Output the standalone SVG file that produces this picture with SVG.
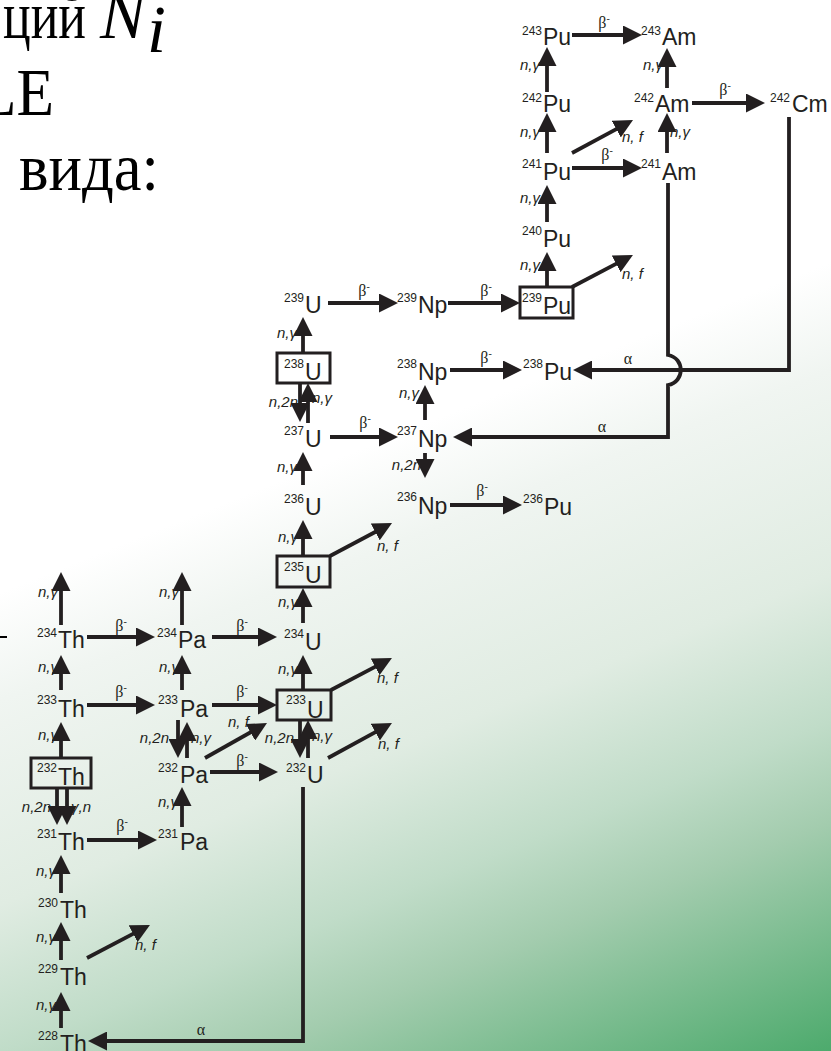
<svg xmlns="http://www.w3.org/2000/svg" width="831" height="1051" viewBox="0 0 831 1051">
<defs>
<linearGradient id="bg" gradientUnits="userSpaceOnUse" x1="203.5" y1="511.5" x2="475.5" y2="1195">
<stop offset="0" stop-color="#ffffff"/>
<stop offset="0.136" stop-color="#f0f5f1"/>
<stop offset="0.395" stop-color="#e0ece2"/>
<stop offset="0.58" stop-color="#c0dcc8"/>
<stop offset="0.707" stop-color="#a3ccae"/>
<stop offset="1" stop-color="#4caa6c"/>
</linearGradient>
<marker id="ah" markerUnits="userSpaceOnUse" markerWidth="19" markerHeight="19" viewBox="0 0 19 19" refX="9" refY="9.5" orient="auto"><path d="M0,0 L19,9.5 L0,19 Z" fill="#231f20"/></marker>
<style>
.c line,.c path{stroke:#231f20;stroke-width:3.8;fill:none;marker-end:url(#ah)}
.bx{stroke:#231f20;stroke-width:3;fill:none}
.e{font-family:"Liberation Sans",Arial,sans-serif;font-size:23px;fill:#231f20}
.s{font-family:"Liberation Sans",Arial,sans-serif;font-size:12px;fill:#231f20;text-anchor:end}
.l{font-family:"Liberation Sans",Arial,sans-serif;font-style:italic;font-size:15px;fill:#231f20}
.r{text-anchor:end}
.b{font-family:"Liberation Serif","Times New Roman",serif;font-size:16px;fill:#231f20;text-anchor:middle}
.m{font-size:10px}
.t{font-family:"Liberation Serif","Times New Roman",serif;font-size:68px;fill:#000}
</style>
</defs>
<rect width="831" height="1051" fill="url(#bg)"/>

<g id="slide-text">
<text class="t" x="3" y="38" font-size="64" textLength="83" lengthAdjust="spacingAndGlyphs">ций</text>
<text class="t" x="100" y="38" font-style="italic" font-size="64">N</text>
<text class="t" x="147" y="52" font-style="italic" font-size="40">i</text>
<text class="t" x="-21" y="115" textLength="75" lengthAdjust="spacingAndGlyphs">LE</text>
<text class="t" x="19" y="190" textLength="140" lengthAdjust="spacingAndGlyphs">вида:</text>
<rect x="0" y="636" width="7" height="2" fill="#000"/>
</g>

<g id="connectors" class="c">
<line x1="547" y1="92" x2="547" y2="57"/>
<line x1="547" y1="153" x2="547" y2="123"/>
<line x1="547" y1="222" x2="547" y2="195"/>
<line x1="547" y1="287" x2="547" y2="262"/>
<line x1="667" y1="153" x2="667" y2="123"/>
<line x1="667" y1="88" x2="667" y2="58"/>
<line x1="303" y1="353" x2="303" y2="327"/>
<line x1="308" y1="423" x2="308" y2="393"/>
<line x1="300" y1="383" x2="300" y2="412"/>
<line x1="425" y1="420" x2="425" y2="395"/>
<line x1="425" y1="453" x2="425" y2="468"/>
<line x1="303" y1="485" x2="303" y2="462"/>
<line x1="303" y1="556" x2="303" y2="530"/>
<line x1="303" y1="623" x2="303" y2="598"/>
<line x1="303" y1="690" x2="303" y2="665"/>
<line x1="300" y1="720" x2="300" y2="748"/>
<line x1="308" y1="758" x2="308" y2="730"/>
<line x1="61" y1="625" x2="61" y2="582"/>
<line x1="182" y1="625" x2="182" y2="582"/>
<line x1="61" y1="690" x2="61" y2="665"/>
<line x1="182" y1="690" x2="182" y2="665"/>
<line x1="61" y1="758" x2="61" y2="732"/>
<line x1="57" y1="788" x2="57" y2="815"/>
<line x1="67" y1="788" x2="67" y2="815"/>
<line x1="178" y1="720" x2="178" y2="748"/>
<line x1="187" y1="758" x2="187" y2="732"/>
<line x1="182" y1="827" x2="182" y2="797"/>
<line x1="61" y1="893" x2="61" y2="865"/>
<line x1="61" y1="960" x2="61" y2="932"/>
<line x1="61" y1="1028" x2="61" y2="1002"/>
<line x1="572" y1="35" x2="632" y2="35"/>
<line x1="572" y1="168" x2="632" y2="168"/>
<line x1="692" y1="103" x2="755" y2="103"/>
<line x1="328" y1="303" x2="388" y2="303"/>
<line x1="448" y1="303" x2="510" y2="303"/>
<line x1="450" y1="370" x2="512" y2="370"/>
<line x1="330" y1="437" x2="388" y2="437"/>
<line x1="450" y1="505" x2="512" y2="505"/>
<line x1="87" y1="637" x2="145" y2="637"/>
<line x1="212" y1="637" x2="267" y2="637"/>
<line x1="87" y1="705" x2="145" y2="705"/>
<line x1="212" y1="705" x2="267" y2="705"/>
<line x1="210" y1="772" x2="268" y2="772"/>
<line x1="87" y1="840" x2="147" y2="840"/>
<line x1="572" y1="153" x2="624.2" y2="124.8"/>
<line x1="572" y1="287" x2="624.1" y2="259.6"/>
<line x1="330" y1="556" x2="383.2" y2="527.7"/>
<line x1="331" y1="690" x2="383.1" y2="662.6"/>
<line x1="328" y1="758" x2="383.2" y2="727.8"/>
<line x1="205" y1="758" x2="258.3" y2="727.9"/>
<line x1="87" y1="958" x2="141.1" y2="929.6"/>
<path d="M668,183 V355 C685,358 685,382 668,385 V437 H463"/>
<path d="M789,117 V370 H583"/>
<path d="M303,787 V1041 H98"/>
</g>

<g id="connector-labels">
<text class="l r" x="540" y="70">n,γ</text>
<text class="l r" x="540" y="137">n,γ</text>
<text class="l r" x="540" y="203">n,γ</text>
<text class="l r" x="540" y="270">n,γ</text>
<text class="l" x="670" y="137">n,γ</text>
<text class="l r" x="663" y="70">n,γ</text>
<text class="l r" x="297" y="338">n,γ</text>
<text class="l" x="312" y="403">n,γ</text>
<text class="l r" x="298" y="407">n,2n</text>
<text class="l r" x="419" y="398">n,γ</text>
<text class="l r" x="421" y="470">n,2n</text>
<text class="l r" x="297" y="472">n,γ</text>
<text class="l r" x="298" y="542">n,γ</text>
<text class="l r" x="298" y="607">n,γ</text>
<text class="l r" x="298" y="674">n,γ</text>
<text class="l r" x="294" y="743">n,2n</text>
<text class="l" x="312" y="741">n,γ</text>
<text class="l r" x="58" y="597">n,γ</text>
<text class="l r" x="179" y="597">n,γ</text>
<text class="l r" x="58" y="672">n,γ</text>
<text class="l r" x="179" y="672">n,γ</text>
<text class="l r" x="58" y="740">n,γ</text>
<text class="l r" x="51" y="812">n,2n</text>
<text class="l" x="71" y="812">γ,n</text>
<text class="l r" x="169" y="743">n,2n</text>
<text class="l" x="191" y="743">n,γ</text>
<text class="l r" x="178" y="807">n,γ</text>
<text class="l r" x="56" y="876">n,γ</text>
<text class="l r" x="56" y="942">n,γ</text>
<text class="l r" x="56" y="1010">n,γ</text>
<text class="l" x="622" y="142">n, f</text>
<text class="l" x="622" y="279">n, f</text>
<text class="l" x="377" y="551">n, f</text>
<text class="l" x="377" y="683">n, f</text>
<text class="l" x="378" y="749">n, f</text>
<text class="l" x="228" y="727">n, f</text>
<text class="l" x="135" y="950">n, f</text>
<text class="b" x="604" y="28">β<tspan class="m" dy="-6">-</tspan></text>
<text class="b" x="607" y="160">β<tspan class="m" dy="-6">-</tspan></text>
<text class="b" x="725" y="95">β<tspan class="m" dy="-6">-</tspan></text>
<text class="b" x="364" y="296">β<tspan class="m" dy="-6">-</tspan></text>
<text class="b" x="486" y="296">β<tspan class="m" dy="-6">-</tspan></text>
<text class="b" x="486" y="363">β<tspan class="m" dy="-6">-</tspan></text>
<text class="b" x="365" y="428">β<tspan class="m" dy="-6">-</tspan></text>
<text class="b" x="482" y="496">β<tspan class="m" dy="-6">-</tspan></text>
<text class="b" x="121" y="631">β<tspan class="m" dy="-6">-</tspan></text>
<text class="b" x="242" y="631">β<tspan class="m" dy="-6">-</tspan></text>
<text class="b" x="121" y="697">β<tspan class="m" dy="-6">-</tspan></text>
<text class="b" x="242" y="697">β<tspan class="m" dy="-6">-</tspan></text>
<text class="b" x="242" y="766">β<tspan class="m" dy="-6">-</tspan></text>
<text class="b" x="122" y="831">β<tspan class="m" dy="-6">-</tspan></text>
<text class="b" x="602" y="432">α</text>
<text class="b" x="628" y="364">α</text>
<text class="b" x="201" y="1035">α</text>
</g>

<g id="n-Pu243"><text class="s" x="542" y="35">243</text><text class="e" x="543" y="45">Pu</text></g>
<g id="n-Am243"><text class="s" x="661" y="35">243</text><text class="e" x="662" y="45">Am</text></g>
<g id="n-Pu242"><text class="s" x="542" y="102">242</text><text class="e" x="543" y="112">Pu</text></g>
<g id="n-Am242"><text class="s" x="654" y="102">242</text><text class="e" x="655" y="112">Am</text></g>
<g id="n-Cm242"><text class="s" x="790" y="102">242</text><text class="e" x="792" y="112">Cm</text></g>
<g id="n-Pu241"><text class="s" x="542" y="168">241</text><text class="e" x="543" y="180">Pu</text></g>
<g id="n-Am241"><text class="s" x="661" y="168">241</text><text class="e" x="662" y="180">Am</text></g>
<g id="n-Pu240"><text class="s" x="542" y="235">240</text><text class="e" x="543" y="247">Pu</text></g>
<g id="n-Pu239"><rect class="bx" x="520" y="287" width="53" height="31"/><text class="s" x="542" y="302">239</text><text class="e" x="543" y="314">Pu</text></g>
<g id="n-U239"><text class="s" x="304" y="302">239</text><text class="e" x="305" y="313">U</text></g>
<g id="n-Np239"><text class="s" x="417" y="302">239</text><text class="e" x="418" y="313">Np</text></g>
<g id="n-U238"><rect class="bx" x="277" y="353" width="53" height="30"/><text class="s" x="304" y="368">238</text><text class="e" x="305" y="380">U</text></g>
<g id="n-Np238"><text class="s" x="417" y="368">238</text><text class="e" x="418" y="380">Np</text></g>
<g id="n-Pu238"><text class="s" x="543" y="368">238</text><text class="e" x="544" y="380">Pu</text></g>
<g id="n-U237"><text class="s" x="304" y="435">237</text><text class="e" x="305" y="447">U</text></g>
<g id="n-Np237"><text class="s" x="417" y="435">237</text><text class="e" x="418" y="447">Np</text></g>
<g id="n-U236"><text class="s" x="304" y="503">236</text><text class="e" x="305" y="515">U</text></g>
<g id="n-Np236"><text class="s" x="417" y="501">236</text><text class="e" x="418" y="514">Np</text></g>
<g id="n-Pu236"><text class="s" x="543" y="503">236</text><text class="e" x="544" y="515">Pu</text></g>
<g id="n-U235"><rect class="bx" x="277" y="556" width="53" height="31"/><text class="s" x="304" y="571">235</text><text class="e" x="305" y="583">U</text></g>
<g id="n-U234"><text class="s" x="304" y="638">234</text><text class="e" x="305" y="650">U</text></g>
<g id="n-Th234"><text class="s" x="57" y="637">234</text><text class="e" x="58" y="648">Th</text></g>
<g id="n-Pa234"><text class="s" x="177" y="637">234</text><text class="e" x="178" y="648">Pa</text></g>
<g id="n-Th233"><text class="s" x="57" y="704">233</text><text class="e" x="58" y="717">Th</text></g>
<g id="n-Pa233"><text class="s" x="178" y="704">233</text><text class="e" x="180" y="717">Pa</text></g>
<g id="n-U233"><rect class="bx" x="277" y="690" width="54" height="30"/><text class="s" x="306" y="704">233</text><text class="e" x="307" y="718">U</text></g>
<g id="n-Th232"><rect class="bx" x="31" y="758" width="60" height="30"/><text class="s" x="57" y="772">232</text><text class="e" x="58" y="785">Th</text></g>
<g id="n-Pa232"><text class="s" x="178" y="772">232</text><text class="e" x="180" y="783">Pa</text></g>
<g id="n-U232"><text class="s" x="306" y="772">232</text><text class="e" x="307" y="783">U</text></g>
<g id="n-Th231"><text class="s" x="57" y="838">231</text><text class="e" x="58" y="850">Th</text></g>
<g id="n-Pa231"><text class="s" x="178" y="838">231</text><text class="e" x="180" y="850">Pa</text></g>
<g id="n-Th230"><text class="s" x="58" y="907">230</text><text class="e" x="60" y="918">Th</text></g>
<g id="n-Th229"><text class="s" x="58" y="973">229</text><text class="e" x="60" y="985">Th</text></g>
<g id="n-Th228"><text class="s" x="58" y="1040">228</text><text class="e" x="60" y="1052">Th</text></g>
</svg>
